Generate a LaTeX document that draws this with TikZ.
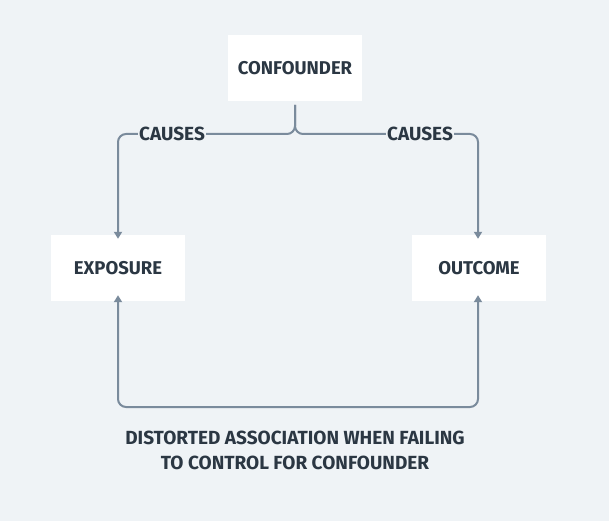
\documentclass[tikz,border=0pt]{standalone}
\usepackage{fontspec}
\setmainfont{Fira Sans}
\usetikzlibrary{arrows.meta}
\definecolor{bg}{HTML}{EFF3F6}
\definecolor{ln}{HTML}{7A8B9C}
\definecolor{tx}{HTML}{2B3743}
\begin{document}
\begin{tikzpicture}[x=1pt,y=-1pt,
  box/.style={fill=white,minimum width=134pt,minimum height=66pt,inner sep=0pt,font=\bfseries\fontsize{18.5}{22}\selectfont,text=tx},
  conn/.style={draw=ln,line width=2pt,rounded corners=8pt},
  tip/.style={-{Triangle[length=7pt,width=8pt]}},
  lab/.style={fill=bg,inner sep=1pt,font=\bfseries\fontsize{19}{22}\selectfont,text=tx}]
\fill[bg] (0,0) rectangle (609,521);
\useasboundingbox (0,0) rectangle (609,521);
\node[box] (c) at (295,68) {CONFOUNDER};
\node[box] (e) at (118,268) {EXPOSURE};
\node[box] (o) at (479,268) {OUTCOME};
\coordinate (cb) at (295,105);
\draw[conn,tip] (cb) -- (295,134) -- (118,134) -- ([yshift=-4pt]e.north -| 118,0);
\draw[conn,tip] (cb) -- (295,134) -- (478,134) -- ([yshift=-4pt]o.north -| 478,0);
\node[lab] (l1) at (172,134) {CAUSES};
\node[lab] (l2) at (420,134) {CAUSES};
\draw[conn,{Triangle[length=7pt,width=8pt]}-{Triangle[length=7pt,width=8pt]}] ([yshift=6pt]e.south -| 118,0) -- (118,407) -- (478,407) -- ([yshift=6pt]o.south -| 478,0);
\node[font=\bfseries\fontsize{19}{25}\selectfont,text=tx,align=center] (t) at (295,450) {DISTORTED ASSOCIATION WHEN FAILING\\TO CONTROL FOR CONFOUNDER};
\end{tikzpicture}
\end{document}
